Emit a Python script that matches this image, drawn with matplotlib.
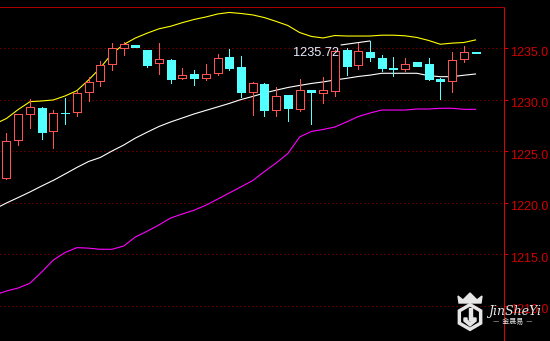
import numpy as np
import matplotlib
matplotlib.use("Agg")
import matplotlib.pyplot as plt
from matplotlib.patches import Rectangle, Polygon, RegularPolygon
import matplotlib.transforms as mtransforms

plt.rcParams['font.family'] = ['Liberation Sans', 'DejaVu Sans']

# candle data
opens = [1222.44, 1226.07, 1228.60, 1229.21, 1226.94, 1228.74, 1228.79, 1230.73, 1231.80, 1233.46,
         1235.07, 1235.30, 1234.84, 1233.55, 1233.87, 1232.15, 1232.51, 1232.15, 1232.58, 1234.16,
         1233.19, 1230.73, 1231.54, 1228.99, 1230.44, 1229.14, 1230.96, 1230.64, 1230.89, 1234.84,
         1233.42, 1234.65, 1234.07, 1233.10, 1233.03, 1233.68, 1233.48, 1232.03, 1231.86, 1234.00,
         1234.65]
highs = [1226.78, 1228.60, 1230.05, 1229.34, 1229.01, 1230.15, 1230.86, 1232.19, 1233.78, 1235.52,
         1235.62, 1235.30, 1234.84, 1235.52, 1233.97, 1233.10, 1232.90, 1233.48, 1234.46, 1234.94,
         1234.26, 1231.76, 1231.64, 1231.22, 1230.44, 1232.00, 1230.96, 1232.22, 1234.80, 1235.01,
         1235.65, 1235.72, 1234.36, 1234.16, 1234.04, 1233.68, 1234.04, 1232.12, 1234.65, 1235.23,
         1234.65]
lows = [1222.31, 1225.66, 1227.30, 1226.23, 1225.35, 1227.68, 1228.46, 1229.89, 1231.38, 1232.93,
        1234.39, 1235.15, 1233.22, 1232.54, 1231.67, 1232.03, 1231.47, 1231.93, 1232.42, 1232.93,
        1230.31, 1228.56, 1228.46, 1228.46, 1227.98, 1228.92, 1227.65, 1229.72, 1230.40, 1232.42,
        1233.00, 1233.80, 1232.83, 1232.32, 1232.80, 1233.32, 1231.93, 1230.08, 1230.79, 1233.68,
        1234.55]
closes = [1225.97, 1228.60, 1229.28, 1226.91, 1228.69, 1228.70, 1230.64, 1231.71, 1233.39, 1235.01,
          1235.43, 1235.15, 1233.42, 1233.94, 1232.06, 1232.39, 1232.15, 1232.51, 1234.04, 1233.12,
          1230.79, 1231.64, 1229.04, 1230.35, 1229.24, 1230.93, 1230.73, 1230.96, 1234.75, 1233.32,
          1234.75, 1234.19, 1233.12, 1233.03, 1233.46, 1233.32, 1232.06, 1231.83, 1233.84, 1234.62,
          1234.55]

# bollinger bands, first point is the bar before the window
upper = [1227.65, 1228.19, 1229.06, 1229.82, 1229.89, 1229.99, 1230.38, 1230.89, 1231.93, 1233.10,
         1234.50, 1235.38, 1236.01, 1236.48, 1236.90, 1237.15, 1237.50, 1237.81, 1238.05, 1238.34,
         1238.49, 1238.39, 1238.25, 1237.99, 1237.62, 1237.22, 1236.54, 1236.16, 1236.01, 1236.25,
         1236.20, 1236.20, 1236.20, 1236.28, 1236.28, 1236.22, 1236.06, 1235.77, 1235.40, 1235.51,
         1235.57, 1235.82]
middle = [1219.40, 1219.98, 1220.51, 1221.05, 1221.63, 1222.18, 1222.80, 1223.43, 1224.01, 1224.40,
          1225.03, 1225.61, 1226.29, 1226.86, 1227.41, 1227.85, 1228.24, 1228.63, 1228.97, 1229.31,
          1229.65, 1230.03, 1230.33, 1230.67, 1230.94, 1231.20, 1231.40, 1231.59, 1231.74, 1231.93,
          1232.09, 1232.27, 1232.40, 1232.58, 1232.58, 1232.58, 1232.58, 1232.35, 1232.25, 1232.25,
          1232.39, 1232.51]
lower = [1211.04, 1211.43, 1211.72, 1212.18, 1213.27, 1214.44, 1215.17, 1215.64, 1215.59, 1215.48,
         1215.48, 1215.80, 1216.68, 1217.24, 1217.84, 1218.52, 1218.91, 1219.28, 1219.76, 1220.35,
         1220.95, 1221.55, 1222.16, 1223.04, 1223.87, 1224.79, 1226.39, 1226.93, 1227.12, 1227.36,
         1227.85, 1228.38, 1228.72, 1229.01, 1229.01, 1229.01, 1229.11, 1229.11, 1229.18, 1229.18,
         1229.08, 1229.08]

yticks = [1210.0, 1215.0, 1220.0, 1225.0, 1230.0, 1235.0]

RED = '#ff5252'
CYAN = '#54ffff'
PX = 0.72  # one pixel in points at dpi 100

fig = plt.figure(figsize=(5.5, 3.41), dpi=100, facecolor='black')
ax = fig.add_axes([0, 0, 504/550, (341-7)/341])
ax.set_facecolor('black')

n = len(opens)
w = 0.682
for i in range(n):
    o, h, l, c = opens[i], highs[i], lows[i], closes[i]
    if c > o:
        ax.vlines(i, c, h, color=RED, lw=PX, antialiased=False, zorder=3)
        ax.vlines(i, l, o, color=RED, lw=PX, antialiased=False, zorder=3)
        ax.add_patch(Rectangle((i - w/2, o), w, c - o, facecolor='black', edgecolor=RED,
                               lw=PX, antialiased=False, zorder=4))
    else:
        ax.vlines(i, l, h, color=CYAN, lw=PX, antialiased=False, zorder=3)
        ax.add_patch(Rectangle((i - w/2, c), w, o - c, facecolor=CYAN, edgecolor=CYAN,
                               lw=PX, antialiased=False, zorder=4))

xb = np.arange(-1, n)
ax.plot(xb, upper, color='#ffff00', lw=0.8, zorder=2)
ax.plot(xb, middle, color='#ffffff', lw=0.8, zorder=2)
ax.plot(xb, lower, color='#ff00ff', lw=0.8, zorder=2)

# highest price marker
hi_i = int(np.argmax(highs))
hi = highs[hi_i]
ax.annotate('', xy=(hi_i, hi), xytext=(-29*PX, -4*PX), textcoords='offset points',
            arrowprops=dict(arrowstyle='-', color='white', lw=0.8, shrinkA=0, shrinkB=0), zorder=5)
ax.annotate(f"{hi:.2f}", xy=(hi_i, hi), xytext=(-31*PX, -12*PX), textcoords='offset points',
            ha='right', va='center', color='#e8eeff', fontsize=9.2, zorder=5)

ax.set_xlim(-0.554, 42.43)
ax.set_ylim(1206.57, 1239.02)

ax.set_yticks(yticks)
ax.set_yticklabels([f"{t:.1f}" for t in yticks])
ax.yaxis.tick_right()
ax.tick_params(axis='y', colors='#d00000', labelcolor='#d00000', length=3, width=PX,
               pad=1.5, labelsize=9)
ax.set_xticks([])
offset = mtransforms.ScaledTranslation(0, -3/100, fig.dpi_scale_trans)
for lab in ax.get_yticklabels():
    lab.set_transform(lab.get_transform() + offset)

ax.grid(axis='y', color='#a00000', lw=PX, linestyle=(0, (1, 3)))
for s in ['left', 'bottom']:
    ax.spines[s].set_visible(False)
ax.spines['top'].set_color('#a80000')
ax.spines['top'].set_linewidth(PX)
ax.spines['right'].set_color('#e00000')
ax.spines['right'].set_linewidth(PX)

# watermark logo
ov = fig.add_axes([0, 0, 1, 1], zorder=10)
ov.set_xlim(0, 550)
ov.set_ylim(341, 0)
ov.axis('off')
ov.patch.set_alpha(0)
wm = '#e6e6e6'
ov.add_patch(RegularPolygon((470, 317), 6, radius=13.5, orientation=0, color=wm))
ov.add_patch(RegularPolygon((470, 317), 6, radius=9.5, orientation=0, color='black'))
ov.add_patch(Rectangle((468.5, 308), 3, 12, color=wm))
ov.add_patch(Polygon([(464, 318), (467, 318), (467, 320), (470, 322.5), (473, 320), (473, 318),
                      (476, 318), (476, 321), (470, 326), (464, 321)], closed=True, color=wm))
ov.add_patch(Polygon([(459, 303), (458, 296), (463, 300), (470, 293), (477, 300), (482, 296),
                      (481, 303)], closed=True, color=wm))
ov.text(488, 311.5, "JinSheYi", color=wm, fontsize=9, family='DejaVu Serif', style='italic',
        ha='left', va='center')
ov.text(513, 321.5, "—  金晟易  —", color=wm, fontsize=5, family=['Noto Sans CJK SC', 'DejaVu Sans'],
        ha='center', va='center')

fig.savefig("out.png", dpi=100, facecolor='black')
